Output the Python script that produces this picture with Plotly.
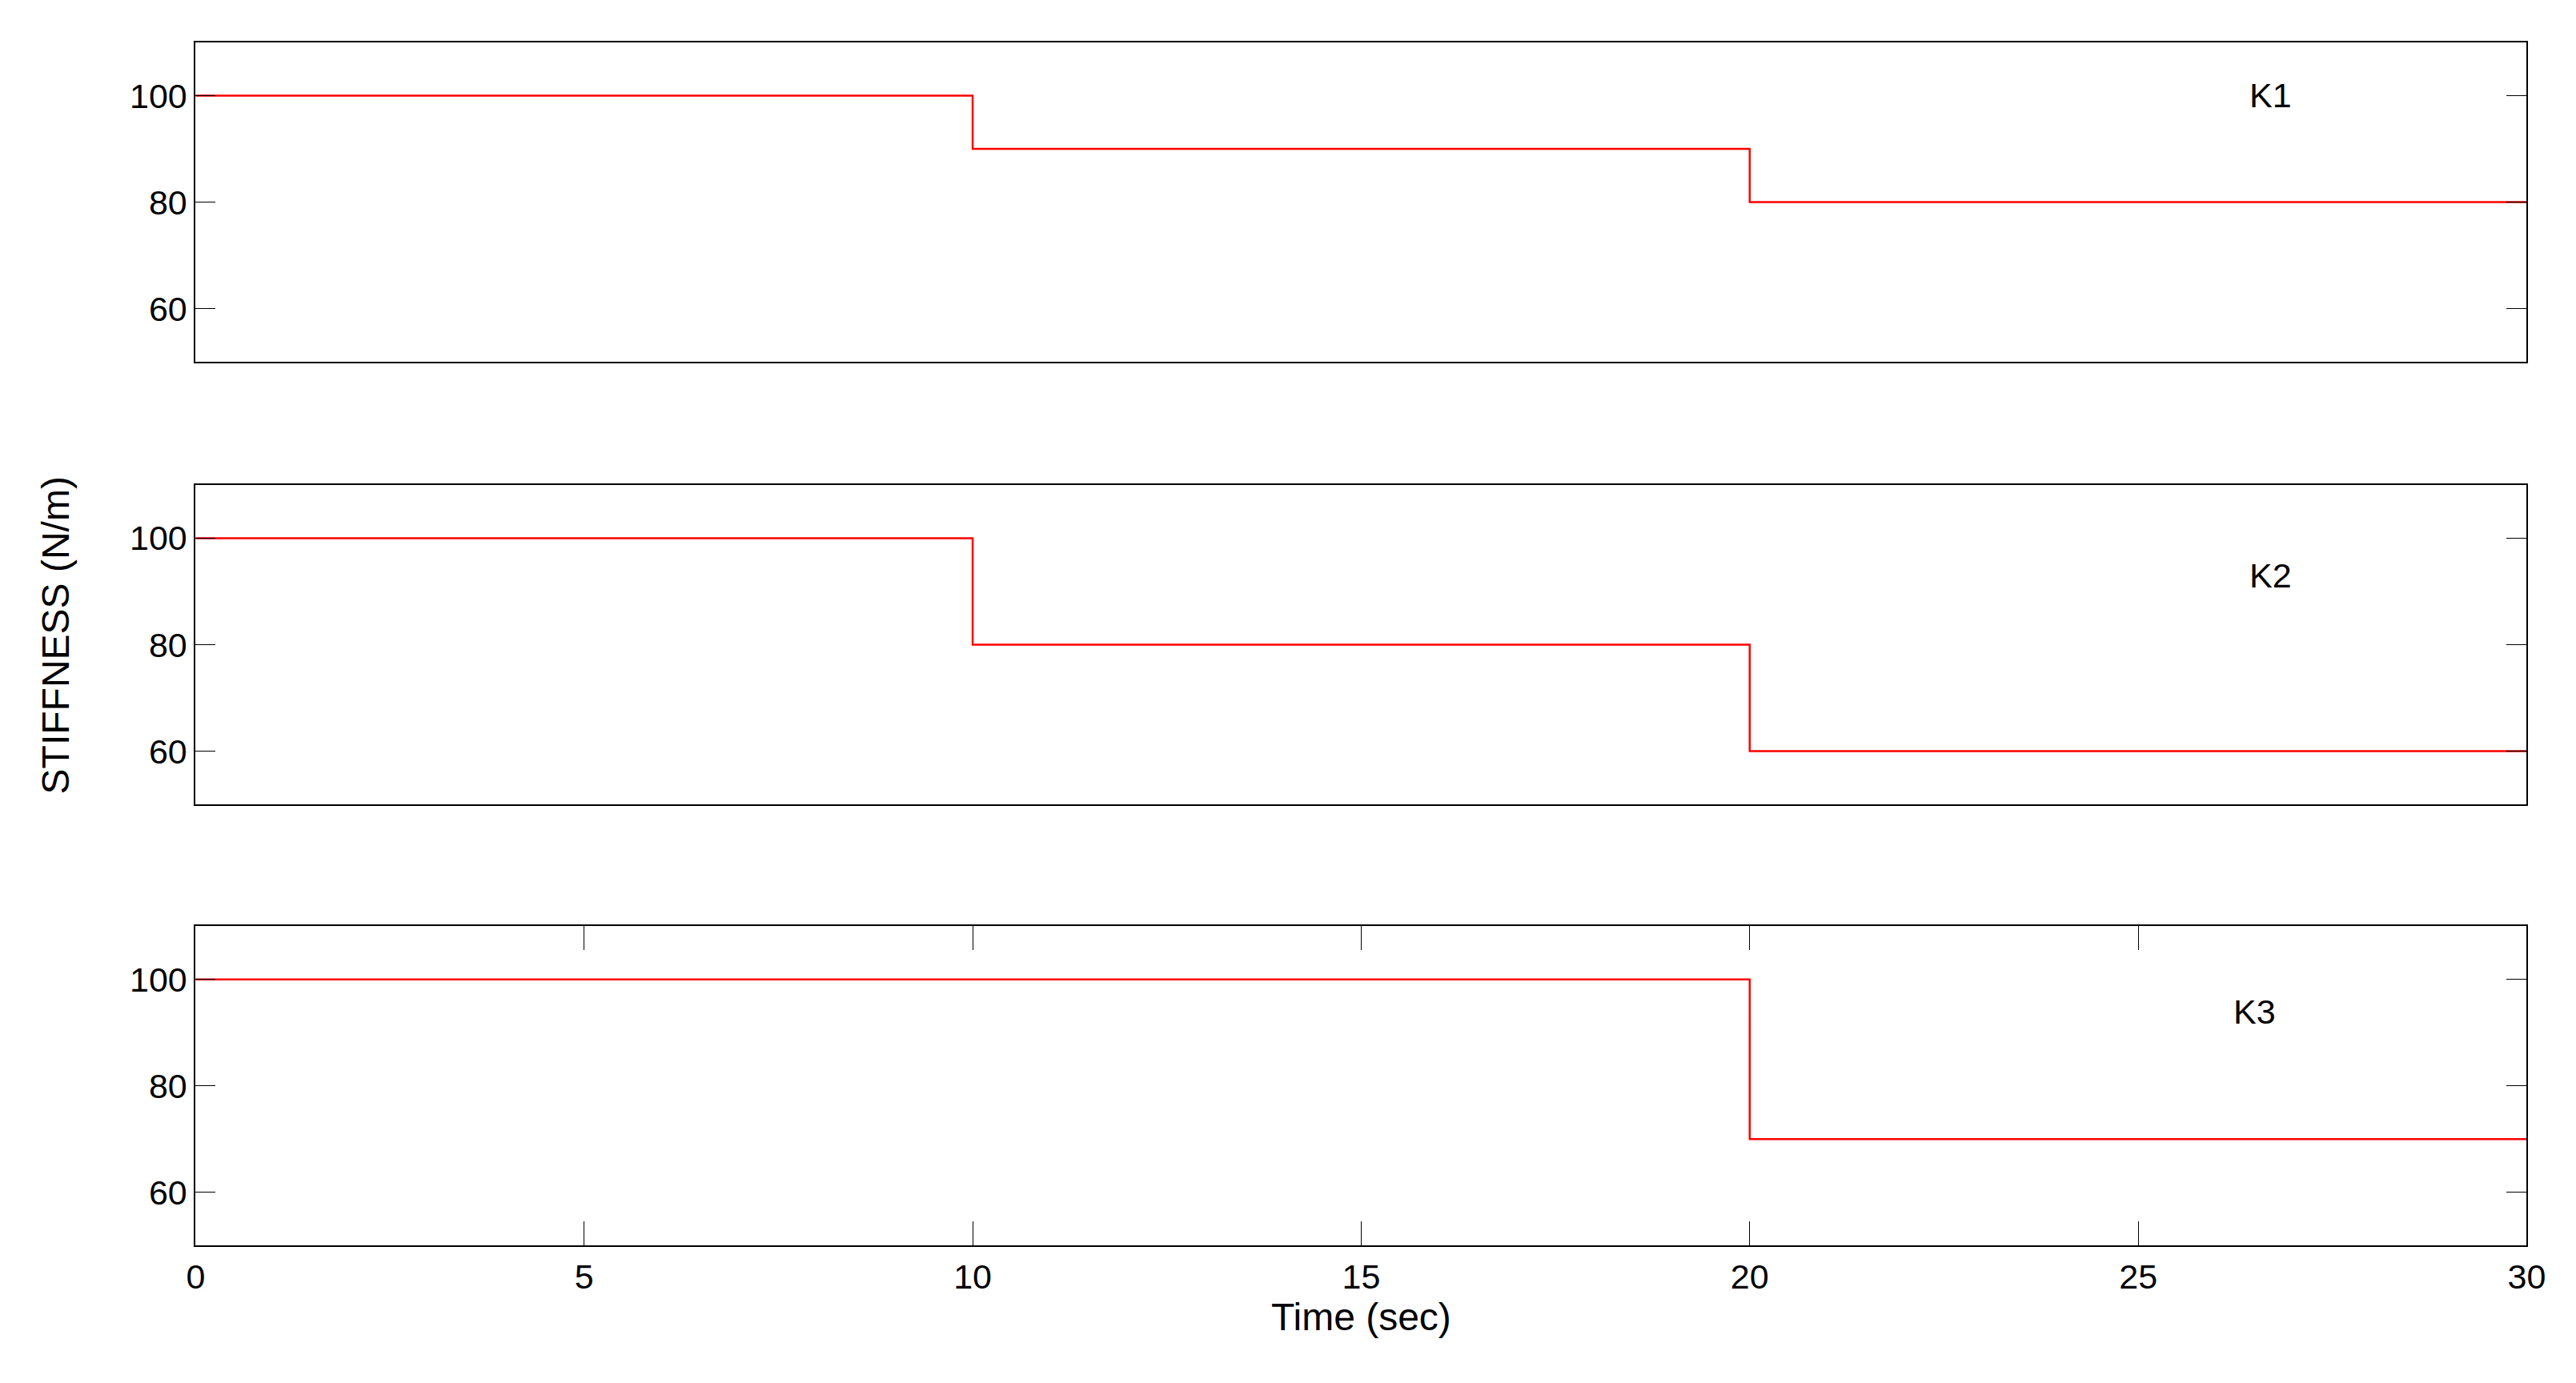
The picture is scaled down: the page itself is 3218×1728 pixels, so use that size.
import plotly.graph_objects as go

# step profiles of stiffness (N/m)
time = [0, 10, 10, 20, 20, 30]
k1 = [100, 100, 90, 90, 80, 80]
k2 = [100, 100, 80, 80, 60, 60]
k3 = [100, 100, 100, 100, 70, 70]
labels = ['K1', 'K2', 'K3']
label_pos = [(26.7, 100), (26.7, 93), (26.5, 94)]

domains = [(0.743, 0.974), (0.423, 0.654), (0.104, 0.335)]
font = dict(family='Liberation Sans, Arial', size=43, color='black')
title_font = dict(family='Liberation Sans, Arial', size=48, color='black')

fig = go.Figure()
for i, ys in enumerate([k1, k2, k3]):
    n = '' if i == 0 else str(i + 1)
    fig.add_trace(go.Scatter(x=time, y=ys, mode='lines', xaxis='x' + n, yaxis='y' + n,
                             line=dict(color='red', width=2.5), showlegend=False))
    last = i == 2
    fig.layout['xaxis' + n] = dict(domain=[0.0705, 0.9857], range=[0, 30], anchor='y' + n,
                                   showline=True, mirror='ticks' if last else True,
                                   linecolor='black', linewidth=2,
                                   showgrid=False, zeroline=False, dtick=5,
                                   ticks='inside' if last else '', ticklen=30, tickcolor='black',
                                   showticklabels=last, tickfont=font,
                                   title=dict(text='Time (sec)', font=title_font, standoff=5) if last else None)
    fig.layout['yaxis' + n] = dict(domain=list(domains[i]), range=[50, 110], anchor='x' + n,
                                   showline=True, mirror='ticks', linecolor='black', linewidth=2,
                                   showgrid=False, zeroline=False, tickvals=[60, 80, 100],
                                   ticks='inside', ticklen=25, tickcolor='black', tickfont=font)
    fig.add_annotation(x=label_pos[i][0], y=label_pos[i][1], xref='x' + n, yref='y' + n,
                       text=labels[i], showarrow=False, font=font)

fig.add_annotation(x=0.0065, y=0.545, xref='paper', yref='paper', text='STIFFNESS (N/m)',
                   textangle=-90, showarrow=False, font=title_font)
fig.update_layout(width=3218, height=1728, margin=dict(l=0, r=0, t=0, b=0),
                  plot_bgcolor='white', paper_bgcolor='white')
fig.write_html('out.html')
